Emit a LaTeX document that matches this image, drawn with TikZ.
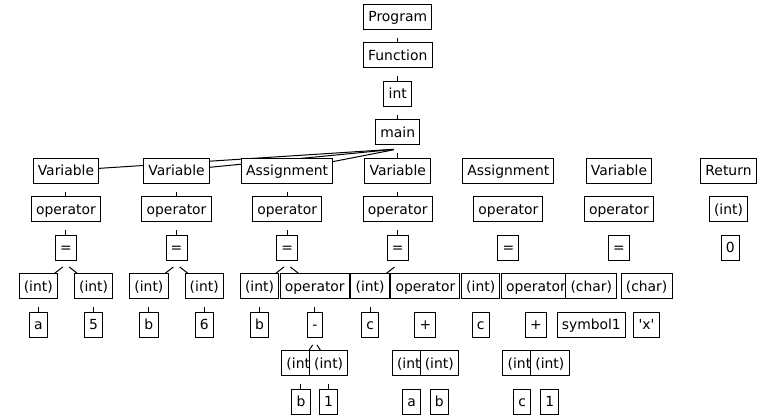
\documentclass[tikz,border=0pt]{standalone}
\usepackage{fontspec}
\setmainfont{DejaVu Sans}
\pgfdeclarelayer{background}
\pgfsetlayers{background,main}
\begin{document}
\begin{tikzpicture}[x=1pt,y=-1pt,
  nd/.style={draw=black,fill=white,line width=1pt,rectangle,minimum height=25pt,
    inner xsep=4.7pt,text height=10.6pt,text depth=0.4pt,
    font=\fontsize{13.9}{16}\selectfont},
  conn/.style={draw=black,line width=1pt,shorten <=4pt}]
\useasboundingbox (0,0) rectangle (762,418);
\def\ra{16.5}\def\rb{55}\def\rc{93.5}\def\rd{132}\def\re{170.5}\def\rf{209}
\def\rg{247.5}\def\rh{286}\def\ri{324.5}\def\rj{363}\def\rk{401.5}
\node[nd] (P) at (397.75,\ra) {Program};
\node[nd] (F) at (397.75,\rb) {Function};
\node[nd] (I) at (397.75,\rc) {int};
\node[nd] (M) at (397.75,\rd) {main};
% subtree 1
\node[nd] (V1) at (65.95,\re) {Variable};
\node[nd] (O1) at (65.95,\rf) {operator};
\node[nd] (E1) at (65.95,\rg) {=};
\node[nd] (L1) at (38.3,\rh) {(int)};
\node[nd] (L1a) at (38.3,\ri) {a};
\node[nd] (R1) at (93.6,\rh) {(int)};
\node[nd] (R1a) at (93.6,\ri) {5};
% subtree 2
\node[nd] (V2) at (176.55,\re) {Variable};
\node[nd] (O2) at (176.55,\rf) {operator};
\node[nd] (E2) at (176.55,\rg) {=};
\node[nd] (L2) at (148.9,\rh) {(int)};
\node[nd] (L2a) at (148.9,\ri) {b};
\node[nd] (R2) at (204.2,\rh) {(int)};
\node[nd] (R2a) at (204.2,\ri) {6};
% subtree 3
\node[nd] (A3) at (287.15,\re) {Assignment};
\node[nd] (O3) at (287.15,\rf) {operator};
\node[nd] (E3) at (287.15,\rg) {=};
\node[nd] (L3) at (259.5,\rh) {(int)};
\node[nd] (L3a) at (259.5,\ri) {b};
\node[nd] (R3) at (314.8,\rh) {operator};
\node[nd] (R3m) at (314.8,\ri) {-};
\node[nd] (R3L) at (300.95,\rj) {(int)};
\node[nd] (R3La) at (300.95,\rk) {b};
\node[nd] (R3R) at (328.65,\rj) {(int)};
\node[nd] (R3Ra) at (328.65,\rk) {1};
% subtree 4
\node[nd] (V4) at (397.75,\re) {Variable};
\node[nd] (O4) at (397.75,\rf) {operator};
\node[nd] (E4) at (397.75,\rg) {=};
\node[nd] (L4) at (370.1,\rh) {(int)};
\node[nd] (L4a) at (370.1,\ri) {c};
\node[nd] (R4) at (425.4,\rh) {operator};
\node[nd] (R4m) at (425.4,\ri) {+};
\node[nd] (R4L) at (411.55,\rj) {(int)};
\node[nd] (R4La) at (411.55,\rk) {a};
\node[nd] (R4R) at (439.25,\rj) {(int)};
\node[nd] (R4Ra) at (439.25,\rk) {b};
% subtree 5
\node[nd] (A5) at (508.35,\re) {Assignment};
\node[nd] (O5) at (508.35,\rf) {operator};
\node[nd] (E5) at (508.35,\rg) {=};
\node[nd] (L5) at (480.7,\rh) {(int)};
\node[nd] (L5a) at (480.7,\ri) {c};
\node[nd] (R5) at (536,\rh) {operator};
\node[nd] (R5m) at (536,\ri) {+};
\node[nd] (R5L) at (522.15,\rj) {(int)};
\node[nd] (R5La) at (522.15,\rk) {c};
\node[nd] (R5R) at (549.85,\rj) {(int)};
\node[nd] (R5Ra) at (549.85,\rk) {1};
% subtree 6
\node[nd] (V6) at (618.95,\re) {Variable};
\node[nd] (O6) at (618.95,\rf) {operator};
\node[nd] (E6) at (618.95,\rg) {=};
\node[nd] (L6) at (591.3,\rh) {(char)};
\node[nd] (L6a) at (591.3,\ri) {symbol1};
\node[nd] (R6) at (646.6,\rh) {(char)};
\node[nd] (R6a) at (646.6,\ri) {\textquotesingle x\textquotesingle};
% return
\node[nd] (RT) at (728.5,\re) {Return};
\node[nd] (RTi) at (728.5,\rf) {(int)};
\node[nd] (RT0) at (730.3,\rg) {0};
\begin{pgfonlayer}{background}
\foreach \a/\b in {P/F,F/I,I/M,M/V1,V1/O1,O1/E1,E1/L1,L1/L1a,E1/R1,R1/R1a,
  M/V2,V2/O2,O2/E2,E2/L2,L2/L2a,E2/R2,R2/R2a,
  M/A3,A3/O3,O3/E3,E3/L3,L3/L3a,E3/R3,R3/R3m,R3m/R3L,R3L/R3La,R3m/R3R,R3R/R3Ra,
  M/V4,V4/O4,O4/E4,E4/L4,L4/L4a}
  \draw[conn] ([yshift=-17pt]\a.center) -- (\b.center);
\end{pgfonlayer}
\end{tikzpicture}
\end{document}
